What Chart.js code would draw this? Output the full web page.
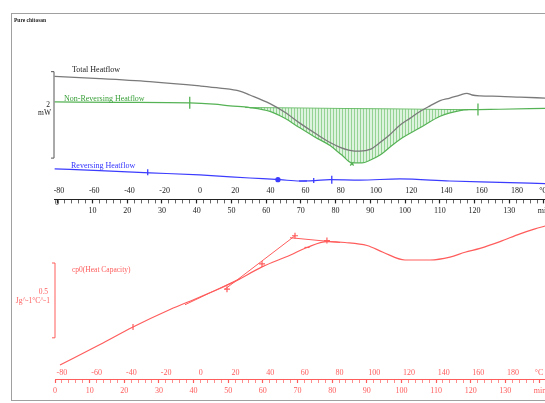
<!DOCTYPE html>
<html>
<head>
<meta charset="utf-8">
<script src="https://cdn.jsdelivr.net/npm/chart.js@4.4.0/dist/chart.umd.min.js"></script>
<style>
  html, body { margin: 0; padding: 0; background: #fff; width: 545px; height: 403px; overflow: hidden; }
  #frame { position: absolute; left: 11px; top: 13px; width: 600px; height: 386px; border: 1.5px solid #a0a0a0; }
  canvas { position: absolute; left: 0; }
  #top { top: 0; }
  #bottom { top: 218px; }
</style>
</head>
<body>
<div id="frame"></div>
<canvas id="top" width="570" height="219"></canvas>
<canvas id="bottom" width="570" height="185"></canvas>
<script>
// time in min, heat flow in mW (each trace keeps its own offset like on the plot)
const totalTime = [-0.9, 12.1, 26.5, 40.9, 46.7, 52.4, 55.3, 61.1, 65.4, 69.7, 74.0, 78.4, 81.3, 84.1, 87.0, 89.9, 92.8, 95.6, 98.5, 101.4, 104.3, 107.2, 110.1, 112.9, 115.8, 117.8, 119.3, 121.6, 127.3, 133.1, 140.3];
const totalFlow = [0.52, 0.47, 0.40, 0.30, 0.25, 0.18, 0.09, -0.11, -0.31, -0.56, -0.79, -1.01, -1.12, -1.19, -1.21, -1.17, -1.01, -0.83, -0.61, -0.45, -0.29, -0.16, -0.04, 0.02, 0.09, 0.13, 0.09, 0.07, 0.06, 0.04, 0.02];

const nonRevTime = [-0.9, 17.9, 38.0, 45.0, 49.6, 55.3, 61.1, 65.4, 69.7, 74.0, 78.4, 81.8, 84.7, 87.6, 89.9, 92.8, 95.6, 98.5, 104.3, 110.1, 115.8, 118.7, 127.3, 140.3];
const nonRevFlow = [-0.07, -0.08, -0.09, -0.12, -0.16, -0.20, -0.29, -0.45, -0.67, -0.88, -1.08, -1.30, -1.48, -1.48, -1.42, -1.30, -1.12, -0.94, -0.67, -0.40, -0.27, -0.25, -0.24, -0.22];
const nonRevBaseTime = [53.9, 118.1];
const nonRevBaseFlow = [-0.20, -0.25];

const revTime = [-0.9, 12.1, 26.5, 40.9, 55.3, 64.0, 69.7, 74.0, 78.4, 87.0, 98.5, 112.9, 127.3, 140.3];
const revFlow = [-1.62, -1.66, -1.71, -1.76, -1.83, -1.87, -1.90, -1.89, -1.87, -1.88, -1.85, -1.90, -1.93, -1.96];

const nonRevMarkTime = [38.0, 121.0, 84.7];
const nonRevMarkFlow = [-0.09, -0.245, -1.50];
const revMarkTime = [25.9, 63.4, 70.6, 73.7, 78.9];
const revMarkFlow = [-1.70, -1.87, -1.90, -1.89, -1.87];

// heat capacity, J/g/°C
const cpTime = [1.44, 12.99, 22.52, 33.2, 41.86, 51.39, 59.76, 67.84, 72.75, 78.52, 83.72, 90.07, 94.69, 101.04, 108.26, 114.03, 118.36, 122.69, 128.46, 134.24, 138.57, 141.45];
const cpValue = [1.058, 1.195, 1.312, 1.429, 1.513, 1.610, 1.714, 1.792, 1.844, 1.883, 1.877, 1.857, 1.812, 1.760, 1.760, 1.779, 1.812, 1.838, 1.883, 1.935, 1.968, 1.987];
const onsetTime = [49.08, 69.28];
const onsetCp = [1.565, 1.922];
const peakTime = [67.84, 82.27];
const peakCp = [1.909, 1.877];
const preTime = [37.53, 53.41];
const preCp = [1.461, 1.636];
const cpMarkTime = [22.52, 49.65, 59.76, 72.75, 78.5, 69.28];
const cpMarkValue = [1.312, 1.565, 1.734, 1.844, 1.890, 1.922];

// axes
const timeTicks = [0, 10, 20, 30, 40, 50, 60, 70, 80, 90, 100, 110, 120, 130];
const tempTicks = [-80, -60, -40, -20, 0, 20, 40, 60, 80, 100, 120, 140, 160, 180];
const timeUnit = 'min';
const tempUnit = '°C';

function pts(xs, ys) {
    return xs.map((x, i) => ({ x: x, y: ys[i] }));
}

const serif = 'Liberation Serif';

function axes(color, tMin, tMax, tempMin, tempMax, tempHeight, showZero) {
    return {
        x: {
            type: 'linear', position: 'bottom', min: tMin, max: tMax, weight: 1,
            afterBuildTicks: s => {
                const t = [];
                for (let v = 0; v <= 140; v += 2) t.push({ value: v });
                s.ticks = t;
            },
            ticks: {
                autoSkip: false, maxRotation: 0, padding: 3, color: color,
                font: { family: serif, size: 8 },
                callback: v => {
                    if (v === 140) return timeUnit;
                    if (v === 0 && !showZero) return '';
                    return timeTicks.includes(v) ? String(v) : '';
                }
            },
            grid: {
                drawOnChartArea: false, drawTicks: true, tickLength: 4, tickColor: color,
                tickWidth: c => (c.tick && c.tick.value % 10 === 0) ? 1.2 : 0.7
            },
            border: { display: true, color: color, width: 1 }
        },
        temp: {
            type: 'linear', position: 'bottom', min: tempMin, max: tempMax, weight: 0,
            afterBuildTicks: s => {
                s.ticks = tempTicks.map(v => ({ value: v })).concat([{ value: 195 }]);
            },
            afterFit: s => { s.height = tempHeight; },
            ticks: {
                autoSkip: false, maxRotation: 0, padding: 2.5, color: color,
                font: { family: serif, size: 8 },
                callback: v => v > 180 ? tempUnit : String(v)
            },
            grid: { display: false, drawTicks: false },
            border: { display: false }
        }
    };
}

const decor = {
    id: 'decor',
    afterDraw(chart, args, o) {
        const ctx = chart.ctx;
        const y = chart.scales.y;
        ctx.save();
        ctx.strokeStyle = o.color;
        ctx.lineWidth = 1;
        const y1 = y.getPixelForValue(o.bar[0]);
        const y2 = y.getPixelForValue(o.bar[1]);
        ctx.beginPath();
        ctx.moveTo(o.barX - 3, y1);
        ctx.lineTo(o.barX, y1);
        ctx.lineTo(o.barX, y2);
        ctx.lineTo(o.barX - 3, y2);
        ctx.stroke();
        o.texts.forEach(t => {
            ctx.fillStyle = t.color;
            ctx.font = t.font;
            ctx.textAlign = t.align || 'left';
            ctx.textBaseline = 'middle';
            ctx.fillText(t.text, t.x, t.y);
        });
        ctx.restore();
    }
};

// vertical hatch for the non-reversing area
const hatch = (() => {
    const c = document.createElement('canvas');
    c.width = 3; c.height = 1;
    const g = c.getContext('2d');
    g.fillStyle = 'rgba(190,232,190,0.5)';
    g.fillRect(0, 0, 3, 1);
    g.fillStyle = 'rgba(110,195,110,0.65)';
    g.fillRect(0, 0, 1, 1);
    return g.createPattern(c, 'repeat');
})();

const gray = '#7a7a7a', green = '#55b255', blue = '#3c3cff', red = '#ff5c5c';

const topScales = axes('#222', -1, 140.3, -82.67, 195.9, 15.8, false);
topScales.y = { display: false, min: -1.96, max: 0.9 };

new Chart(document.getElementById('top'), {
    type: 'line',
    data: {
        datasets: [
            { data: pts(totalTime, totalFlow), borderColor: gray, borderWidth: 1.3, pointRadius: 0, cubicInterpolationMode: 'monotone', clip: false },
            { data: pts(nonRevTime, nonRevFlow), borderColor: green, borderWidth: 1.2, pointRadius: 0, cubicInterpolationMode: 'monotone', fill: { target: 2 }, backgroundColor: hatch, clip: false },
            { data: pts(nonRevBaseTime, nonRevBaseFlow), borderColor: green, borderWidth: 1, pointRadius: 0, clip: false },
            { data: pts(revTime, revFlow), borderColor: blue, borderWidth: 1.2, pointRadius: 0, cubicInterpolationMode: 'monotone', clip: false },
            { data: pts(nonRevMarkTime, nonRevMarkFlow), showLine: false, borderColor: green, borderWidth: 1.3, pointStyle: ['line', 'line', 'crossRot'], rotation: [90, 90, 0], pointRadius: [6, 6, 2.5], clip: false },
            { data: pts(revMarkTime, revMarkFlow), showLine: false, borderColor: blue, backgroundColor: blue, borderWidth: 1.3, pointStyle: ['line', 'circle', 'line', 'line', 'line'], rotation: [90, 0, 0, 90, 90], pointRadius: [3, 2, 4, 2.5, 4], clip: false }
        ]
    },
    options: {
        responsive: false, animation: false,
        layout: { padding: { left: 54.3, right: 25, top: 60, bottom: 0 } },
        scales: topScales,
        plugins: {
            legend: { display: false }, tooltip: { enabled: false },
            decor: {
                color: '#555', barX: 54, bar: [0.63, -1.37],
                texts: [
                    { text: 'Pure chitosan', x: 14, y: 21, color: '#222', font: 'bold 5.5px "Liberation Serif"' },
                    { text: 'Total Heatflow', x: 72, y: 70, color: '#222', font: '8px "Liberation Serif"' },
                    { text: 'Non-Reversing Heatflow', x: 64, y: 99, color: '#3aa03a', font: '8px "Liberation Serif"' },
                    { text: 'Reversing Heatflow', x: 71, y: 166, color: '#3232ff', font: '8px "Liberation Serif"' },
                    { text: '2', x: 50, y: 105, color: '#222', align: 'right', font: '7.5px "Liberation Serif"' },
                    { text: 'mW', x: 51, y: 113, color: '#222', align: 'right', font: '7.5px "Liberation Serif"' },
                    { text: '0', x: 59, y: 203, color: '#222', align: 'right', font: '8px "Liberation Serif"' }
                ]
            }
        }
    },
    plugins: [decor]
});

const botScales = axes(red, 0, 141.45, -84, 198.4, 13.8, true);
botScales.y = { display: false, min: 1.057, max: 2.006 };

new Chart(document.getElementById('bottom'), {
    type: 'line',
    data: {
        datasets: [
            { data: pts(cpTime, cpValue), borderColor: red, borderWidth: 1.2, pointRadius: 0, cubicInterpolationMode: 'monotone', clip: false },
            { data: pts(onsetTime, onsetCp), borderColor: red, borderWidth: 1, pointRadius: 0, clip: false },
            { data: pts(peakTime, peakCp), borderColor: red, borderWidth: 1, pointRadius: 0, clip: false },
            { data: pts(preTime, preCp), borderColor: red, borderWidth: 1, pointRadius: 0, clip: false },
            { data: pts(cpMarkTime, cpMarkValue), showLine: false, borderColor: red, borderWidth: 1.2, pointStyle: ['line', 'cross', 'cross', 'line', 'cross', 'cross'], rotation: [90, 0, 0, 0, 0, 0], pointRadius: [3, 3, 3, 2.5, 3, 3], clip: false }
        ]
    },
    options: {
        responsive: false, animation: false,
        layout: { padding: { left: 55, right: 25, top: 4, bottom: 4.4 } },
        scales: botScales,
        plugins: {
            legend: { display: false }, tooltip: { enabled: false },
            decor: {
                color: red, barX: 55, bar: [1.74, 1.24],
                texts: [
                    { text: 'cp0(Heat Capacity)', x: 72, y: 52, color: red, font: '7.5px "Liberation Serif"' },
                    { text: '0.5', x: 48, y: 74, color: red, align: 'right', font: '7.5px "Liberation Serif"' },
                    { text: 'Jg^-1°C^-1', x: 50, y: 83, color: red, align: 'right', font: '7.5px "Liberation Serif"' }
                ]
            }
        }
    },
    plugins: [decor]
});
</script>
</body>
</html>
